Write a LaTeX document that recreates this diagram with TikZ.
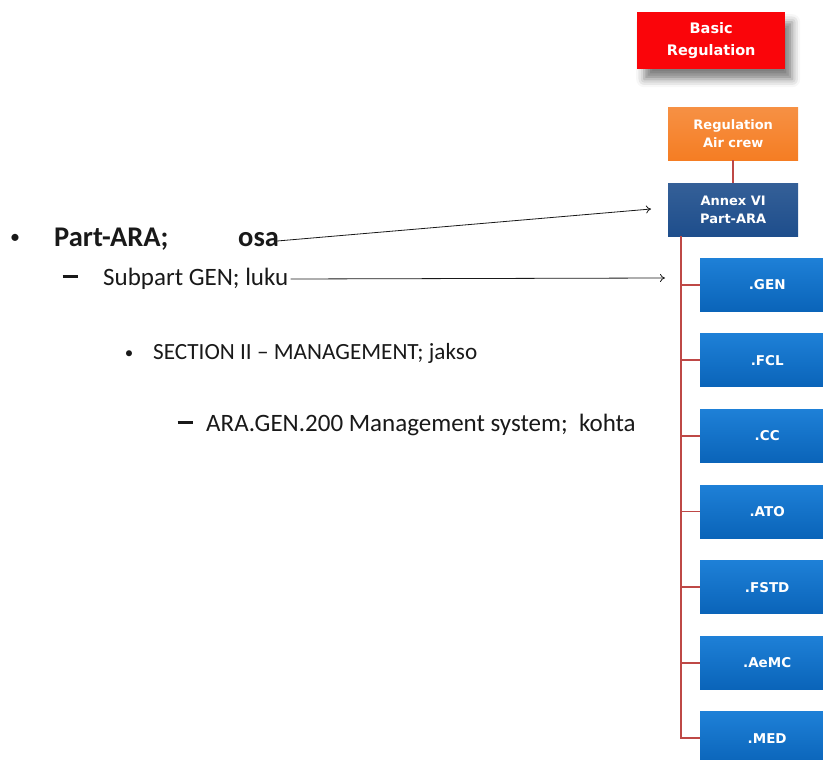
\documentclass[tikz,border=0pt]{standalone}
\usepackage{fontspec}
\setmainfont{Carlito}
\newfontfamily\boxfont{DejaVu Sans}
\usetikzlibrary{shadows.blur,arrows.meta}
\definecolor{redbox}{RGB}{250,5,10}
\definecolor{orangebox}{RGB}{245,125,35}
\definecolor{navybox}{RGB}{30,78,140}
\definecolor{bluetop}{RGB}{30,128,215}
\definecolor{bluebot}{RGB}{10,100,185}
\definecolor{treeline}{RGB}{190,72,70}
\definecolor{inktext}{RGB}{25,25,25}
\tikzset{
  x=1pt, y=1pt,
  boxstyle/.style={inner sep=0pt, align=center, text=white,
    font=\boxfont\bfseries, anchor=north west},
  regbox/.style={boxstyle, fill=redbox, minimum width=148pt, minimum height=57pt,
    font=\boxfont\bfseries\fontsize{14.5}{22}\selectfont,
    blur shadow={shadow xshift=7pt, shadow yshift=-10pt, shadow blur radius=8pt, shadow opacity=50}},
  crewbox/.style={boxstyle, top color=orangebox!85!white, bottom color=orangebox,
    minimum width=130pt, minimum height=53pt,
    font=\boxfont\bfseries\fontsize{13}{17.5}\selectfont},
  annexbox/.style={boxstyle, top color=navybox!90!white, bottom color=navybox,
    minimum width=130pt, minimum height=53pt,
    font=\boxfont\bfseries\fontsize{13}{17.5}\selectfont},
  subbox/.style={boxstyle, top color=bluetop, bottom color=bluebot,
    minimum width=134pt, minimum height=53pt,
    font=\boxfont\bfseries\fontsize{13.5}{15}\selectfont},
  tree/.style={draw=treeline, line width=1.8pt},
  pointer/.style={draw=inktext, line width=0.8pt, -{To[length=5pt,width=8pt]}},
  body/.style={anchor=base west, inner sep=0pt, text=inktext,
    font=\fontsize{25}{28}\selectfont},
  headtext/.style={body, font=\bfseries\fontsize{28.5}{32}\selectfont},
  listsign/.style={anchor=base, inner sep=0pt, text=inktext,
    font=\fontsize{20}{24}\selectfont},
  listdash/.style={anchor=base, inner sep=0pt, text=inktext},
}
\newcommand{\dashbar}{\rule[7.5pt]{15pt}{2.3pt}}
\begin{document}
\begin{tikzpicture}
\useasboundingbox (0,0) rectangle (823,-760);

% hierarchy of regulations
\node[regbox]   (basic) at (637,-12)  {Basic\\Regulation};
\node[crewbox]  (crew)  at (668,-107) {Regulation\\Air crew};
\node[annexbox] (annex) at (668,-183) {Annex VI\\Part-ARA};

\foreach \name/\label [count=\i from 0] in
  {gen/.GEN, fcl/.FCL, cc/.CC, ato/.ATO, fstd/.FSTD, aemc/.AeMC, med/.MED}
  \node[subbox] (\name) at (700,-258-75.6*\i) {\label};

% tree connectors
\draw[tree] (crew.south) -- (annex.north);
\coordinate (trunk) at ([xshift=13pt]annex.south west);
\draw[tree] (trunk) |- (med.west);
\foreach \name in {gen,fcl,cc,ato,fstd,aemc}
  \draw[tree] (trunk |- \name.west) -- (\name.west);

% outline text
\node[listsign] (b1) at (15,-243) {\textbullet};
\node[headtext] (part) at (54,-246) {Part-ARA;};
\node[headtext] (osa) at (238,-246) {osa};

\node[listdash] (d1) at (70,-285) {\dashbar};
\node[body] (sub) at (103,-285) {Subpart GEN; luku};

\node[listsign, font=\fontsize{17}{20}\selectfont] (b2) at (129,-358) {\textbullet};
\node[body, font=\fontsize{23.2}{28}\selectfont] (sec) at (153,-359) {SECTION II -- MANAGEMENT; jakso};

\node[listdash] (d2) at (185,-431) {\dashbar};
\node[body] (ara) at (206,-431) {ARA.GEN.200 Management system;\ \ kohta};

% pointers to the boxes
\coordinate (osaend) at ([xshift=-2pt,yshift=5pt]osa.base east);
\coordinate (annextip) at (651,-209);
\coordinate (subend) at ([xshift=2pt,yshift=6pt]sub.base east);
\coordinate (gentip) at (665,-278);
\draw[pointer] (osaend) -- (annextip);
\draw[pointer] (subend) -- (gentip);
\end{tikzpicture}
\end{document}
